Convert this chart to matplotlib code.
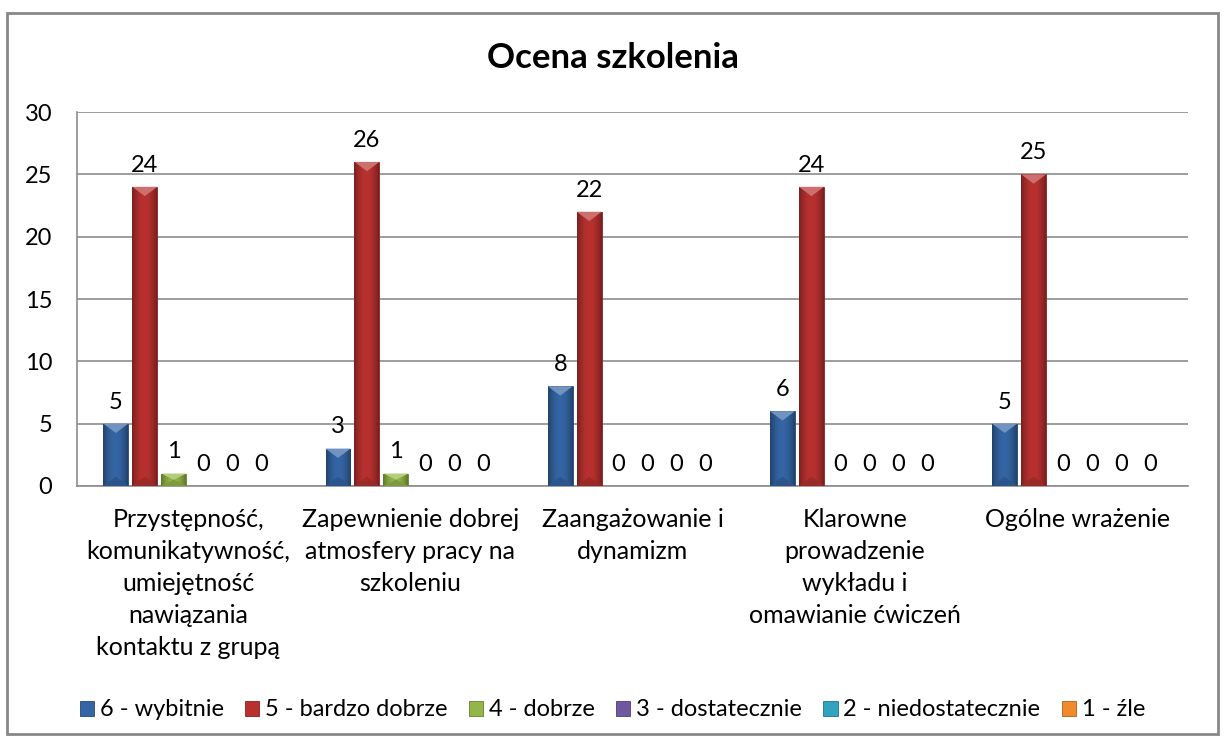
import numpy as np
import matplotlib.pyplot as plt
import matplotlib.colors as mcolors
from matplotlib.patches import Polygon, Rectangle
from matplotlib.legend_handler import HandlerPatch

plt.rcParams['font.family'] = ['Lato', 'DejaVu Sans']

categories = [
    'Przystępność,\nkomunikatywność,\numiejętność\nnawiązania\nkontaktu z grupą',
    'Zapewnienie dobrej\natmosfery pracy na\nszkoleniu',
    'Zaangażowanie i\ndynamizm',
    'Klarowne\nprowadzenie\nwykładu i\nomawianie ćwiczeń',
    'Ogólne wrażenie',
]
series_names = ['6 - wybitnie', '5 - bardzo dobrze', '4 - dobrze',
                '3 - dostatecznie', '2 - niedostatecznie', '1 - źle']
wybitnie = [5, 3, 8, 6, 5]
bardzo_dobrze = [24, 26, 22, 24, 25]
dobrze = [1, 1, 0, 0, 0]
dostatecznie = [0, 0, 0, 0, 0]
niedostatecznie = [0, 0, 0, 0, 0]
zle = [0, 0, 0, 0, 0]
values = [wybitnie, bardzo_dobrze, dobrze, dostatecznie, niedostatecznie, zle]
colors = ['#3465a4', '#b8312f', '#93b646', '#6f589e', '#2fa3c0', '#f08a2a']

fig = plt.figure(figsize=(12.25, 7.38), dpi=100)
ax = fig.add_axes([0.063, 0.3415, 0.907, 0.5067])

# frame around the whole chart
fig.patches.append(Rectangle((0.006, 0.006), 0.988, 0.977, transform=fig.transFigure,
                             fill=False, edgecolor='#878787', linewidth=2))

x = np.arange(len(categories))
slot = 0.1305
width = 0.1125
ymax = 30
bevel = 0.025 * ymax


def shade(c, f):
    r, g, b = mcolors.to_rgb(c)
    if f < 1:
        return (r * f, g * f, b * f)
    f = f - 1
    return (r + (1 - r) * f, g + (1 - g) * f, b + (1 - b) * f)


class BevelHandler(HandlerPatch):
    # small bevelled square for the legend keys
    def create_artists(self, legend, orig_handle, xdescent, ydescent,
                       width, height, fontsize, trans):
        col = orig_handle.get_facecolor()
        s = min(width, height)
        x0 = -xdescent + (width - s) / 2
        y0 = -ydescent + (height - s) / 2
        base = Rectangle((x0, y0), s, s, facecolor=shade(col, 0.9),
                         edgecolor=shade(col, 0.7), linewidth=0.5, transform=trans)
        top = Polygon([(x0, y0 + s), (x0 + s, y0 + s), (x0 + s / 2, y0 + s / 2)],
                      facecolor=shade(col, 1.35), edgecolor='none', transform=trans)
        return [base, top]


for i, (vals, col, name) in enumerate(zip(values, colors, series_names)):
    pos = x + (i - 2.5) * slot
    bars = ax.bar(pos, vals, width, color=col, label=name, zorder=3,
                  edgecolor=shade(col, 0.7), linewidth=0.6)
    ax.bar_label(bars, padding=8, fontsize=17)
    for b, v in zip(bars, vals):
        if v <= 0:
            continue
        x0 = b.get_x()
        # horizontal shading across the column
        grad = np.linspace(-1, 1, 50)
        prof = 1 - 0.35 * grad ** 2
        img = np.array([[shade(col, p) for p in prof]])
        im = ax.imshow(img, extent=(x0, x0 + width, 0, v), aspect='auto',
                       zorder=3.5, interpolation='bilinear')
        im.set_clip_path(b)
        d = min(bevel, v / 2)
        ax.add_patch(Polygon([(x0, v), (x0 + width, v), (x0 + width / 2, v - d)],
                             closed=True, facecolor=shade(col, 1.3),
                             edgecolor='none', zorder=4))
        ax.add_patch(Polygon([(x0, 0), (x0 + width, 0), (x0 + width / 2, d)],
                             closed=True, facecolor=shade(col, 0.85),
                             edgecolor='none', zorder=4))

ax.set_xlim(-0.5, len(categories) - 0.5)
ax.set_ylim(0, ymax)
ax.set_yticks(range(0, 31, 5))
ax.set_xticks(x)
ax.set_xticklabels(categories, fontsize=18, linespacing=1.47, va='top')
ax.tick_params(axis='x', length=0, pad=16)
ax.tick_params(axis='y', length=0, pad=18, labelsize=17)
ax.grid(axis='y', color='#8c8c8c', linewidth=1.2, zorder=0)
for s in ['top', 'right']:
    ax.spines[s].set_visible(False)
for s in ['left', 'bottom']:
    ax.spines[s].set_color('#8c8c8c')
    ax.spines[s].set_linewidth(1.2)
ax.set_axisbelow(True)

fig.text(0.5, 0.922, 'Ocena szkolenia', ha='center', va='center',
         fontsize=25, fontweight='bold')

handles, labels = ax.get_legend_handles_labels()
fig.legend(handles, labels, loc='center', bbox_to_anchor=(0.5, 0.038), ncol=6,
           frameon=False, fontsize=17, handlelength=0.6, handleheight=0.6,
           handletextpad=0.25, columnspacing=0.9,
           handler_map={Rectangle: BevelHandler()})

plt.savefig('out.png', dpi=100)
